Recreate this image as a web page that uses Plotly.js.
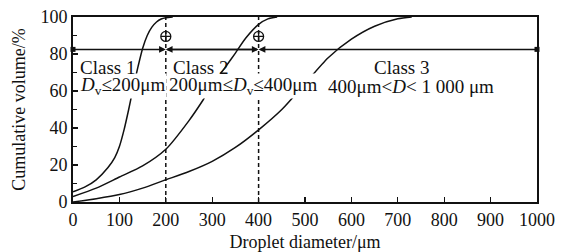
<!DOCTYPE html>
<html>
<head>
<meta charset="utf-8">
<script src="https://cdn.plot.ly/plotly-3.0.1.min.js"></script>
<style>html,body{margin:0;padding:0;background:#fff;}#chart{width:563px;height:252px;}</style>
</head>
<body>
<div id="chart"></div>
<script>
// Class 1 curve
const x1 = [0, 25, 50, 75, 90, 100, 110, 120, 130, 140, 150, 160, 170, 180, 190, 200, 215];
const y1 = [5.5, 8, 12, 18.5, 24, 30, 39, 50, 62, 73, 83, 90, 94.5, 97.3, 98.9, 99.6, 100];
// Class 2 curve
const x2 = [0, 50, 100, 150, 200, 250, 280, 300, 330, 350, 372, 400, 420, 440];
const y2 = [3, 7.5, 13.5, 19.5, 28.5, 44, 55, 63, 73.5, 80.5, 88.5, 96, 99, 100];
// Class 3 curve
const x3 = [0, 50, 100, 150, 200, 250, 300, 350, 400, 450, 500, 550, 600, 650, 700, 730];
const y3 = [0, 1.8, 4, 7.5, 12, 16.5, 22, 29.5, 39, 50, 64, 78, 88, 95, 99, 100];

// class boundaries and reference levels
const classBounds = [0, 200, 400, 1000];
const arrowLevel = 82.5;
const markerLevel = 89.5;
const classNames = ["Class 1", "Class 2", "Class 3"];
const classRanges = ["<i>D</i><sub>v</sub>≤200μm", "200μm≤<i>D</i><sub>v</sub>≤400μm", "400μm<<i>D</i>< 1 000 μm"];
const xTicks = [0, 100, 200, 300, 400, 500, 600, 700, 800, 900, 1000];

const FONT = "Liberation Serif, Times New Roman, serif";
const lineStyle = {color: "#111", width: 1.5, shape: "spline", smoothing: 0.7};

const traces = [
  {x: x1, y: y1, mode: "lines", line: lineStyle, hoverinfo: "skip"},
  {x: x2, y: y2, mode: "lines", line: lineStyle, hoverinfo: "skip"},
  {x: x3, y: y3, mode: "lines", line: lineStyle, hoverinfo: "skip"},
  // dashed boundary lines
  {x: [classBounds[1], classBounds[1]], y: [0, 100], mode: "lines", line: {color: "#111", width: 1.5, dash: "4px,3px"}, hoverinfo: "skip"},
  {x: [classBounds[2], classBounds[2]], y: [0, 100], mode: "lines", line: {color: "#111", width: 1.5, dash: "4px,3px"}, hoverinfo: "skip"},
  // circled markers
  {x: [classBounds[1], classBounds[2]], y: [markerLevel, markerLevel], mode: "markers",
   marker: {symbol: "circle-cross-open", size: 10, color: "#111", line: {width: 1.3, color: "#111"}}, hoverinfo: "skip"},
  // end squares
  {x: [classBounds[0], classBounds[3]], y: [arrowLevel, arrowLevel], mode: "markers",
   marker: {symbol: "square", size: 5, color: "#111"}, cliponaxis: false, hoverinfo: "skip"}
];

const annotations = [];
// arrows
const arrowPairs = [[0, 1], [2, 1], [1, 2], [3, 2]];
arrowPairs.forEach(p => {
  annotations.push({
    x: classBounds[p[1]], y: arrowLevel, ax: classBounds[p[0]], ay: arrowLevel,
    xref: "x", yref: "y", axref: "x", ayref: "y", text: "", showarrow: true,
    arrowhead: 2, arrowsize: 0.9, arrowwidth: 1.5, arrowcolor: "#111", standoff: 0, startstandoff: 0
  });
});
// class labels: range rows first (white background hides curves), name rows drawn on top
const nameX = [13, 213, 709];
const nameAnchor = ["left", "left", "center"];
const rangeX = [13, 205, 547];
for (let i = 0; i < 3; i++) {
  annotations.push({x: rangeX[i], y: 62.5, xref: "x", yref: "y", text: classRanges[i], showarrow: false,
    xanchor: "left", yanchor: "middle", font: {family: FONT, size: 19, color: "#111"}, bgcolor: "#fff", borderpad: 0});
}
for (let i = 0; i < 3; i++) {
  annotations.push({x: nameX[i], y: 72.8, xref: "x", yref: "y", text: classNames[i], showarrow: false,
    xanchor: nameAnchor[i], yanchor: "middle", font: {family: FONT, size: 19, color: "#111"}, borderpad: 0});
}

const layout = {
  width: 563, height: 252,
  margin: {l: 73, r: 26, t: 17, b: 50},
  paper_bgcolor: "#fff", plot_bgcolor: "#fff",
  showlegend: false,
  font: {family: FONT, size: 18, color: "#111"},
  xaxis: {
    range: [0, 1000], tickvals: xTicks, ticktext: xTicks.map(String),
    ticks: "inside", ticklen: 5, tickwidth: 1.2, tickcolor: "#111",
    showline: true, linewidth: 2, linecolor: "#111", mirror: true,
    showgrid: false, zeroline: false,
    tickfont: {family: FONT, size: 18, color: "#111"},
    title: {text: "Droplet diameter/μm", font: {family: FONT, size: 18, color: "#111"}, standoff: 7}
  },
  yaxis: {
    range: [0, 100], dtick: 20, tick0: 0,
    ticks: "inside", ticklen: 5, tickwidth: 1.2, tickcolor: "#111",
    minor: {dtick: 10, ticks: "inside", ticklen: 4, tickcolor: "#111", tickwidth: 1.2},
    showline: true, linewidth: 2, linecolor: "#111", mirror: true,
    showgrid: false, zeroline: false,
    tickfont: {family: FONT, size: 18, color: "#111"},
    title: {text: "Cumulative volume/%", font: {family: FONT, size: 18, color: "#111"}, standoff: 10}
  },
  annotations: annotations
};

Plotly.newPlot("chart", traces, layout, {staticPlot: true, displayModeBar: false});
</script>
</body>
</html>
